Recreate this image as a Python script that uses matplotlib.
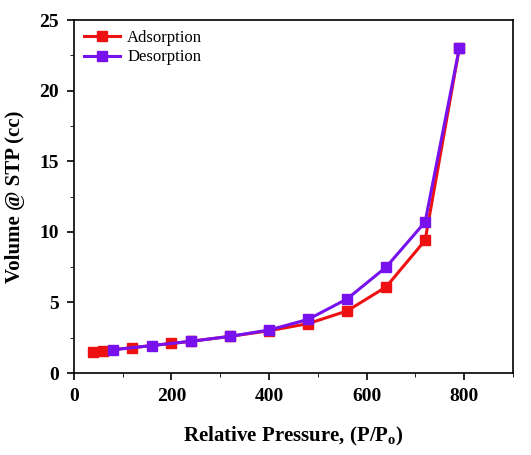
import matplotlib
matplotlib.use("Agg")
import matplotlib.pyplot as plt
from matplotlib.ticker import MultipleLocator

plt.rcParams['font.family'] = ['Liberation Serif', 'DejaVu Serif']
plt.rcParams['mathtext.fontset'] = 'custom'
plt.rcParams['mathtext.rm'] = 'Liberation Serif:bold'

ads_x = [40, 60, 120, 200, 240, 320, 400, 480, 560, 640, 720, 790]
ads_y = [1.5, 1.6, 1.8, 2.1, 2.25, 2.6, 3.0, 3.5, 4.4, 6.1, 9.4, 23.0]
des_x = [80, 160, 240, 320, 400, 480, 560, 640, 720, 790]
des_y = [1.65, 1.95, 2.25, 2.6, 3.05, 3.8, 5.25, 7.5, 10.7, 23.0]

fig = plt.figure(figsize=(5.31, 4.55), dpi=100)
ax = fig.add_axes([0.139, 0.18, 0.827, 0.776])
ax.plot(ads_x, ads_y, color='#ee1111', marker='s', ms=7, lw=2.2, label='Adsorption')
ax.plot(des_x, des_y, color='#7711ee', marker='s', ms=7, lw=2.2, label='Desorption')
ax.set_xlim(0, 900)
ax.set_ylim(0, 25)
ax.set_xticks([0, 200, 400, 600, 800])
ax.set_yticks([0, 5, 10, 15, 20, 25])
ax.xaxis.set_minor_locator(MultipleLocator(100))
ax.yaxis.set_minor_locator(MultipleLocator(2.5))
ax.tick_params(labelsize=14, width=1.2, length=5, pad=6)
ax.tick_params(which='minor', length=3)
for t in ax.get_xticklabels() + ax.get_yticklabels():
    t.set_fontweight('bold')
for s in ax.spines.values():
    s.set_linewidth(1.2)
ax.set_xlabel('Relative Pressure, (P/P$_{\\rm o}$)', fontsize=15, fontweight='bold', labelpad=14)
ax.set_ylabel('Volume @ STP (cc)', fontsize=15, fontweight='bold', labelpad=10)
ax.legend(loc='upper left', fontsize=12, frameon=False, handlelength=2.2,
          borderaxespad=0.2, handletextpad=0.4, labelspacing=0.2)
fig.savefig('out.png', dpi=100)
